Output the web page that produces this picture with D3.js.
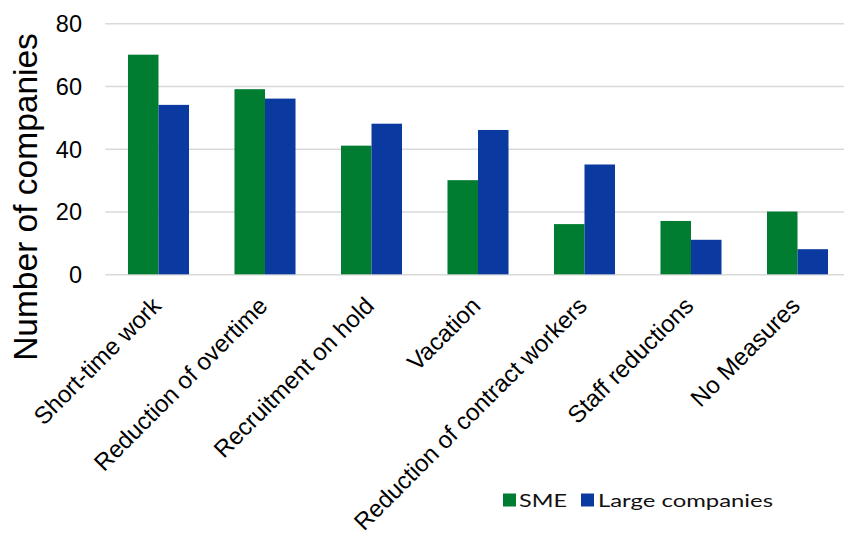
<!DOCTYPE html>
<html>
<head>
<meta charset="utf-8">
<script src="https://cdn.jsdelivr.net/npm/d3@7"></script>
<style>
  html, body { margin: 0; padding: 0; background: #fff; }
  svg { display: block; }
  .axis path, .axis line { display: none; }
  .grid line { stroke: #d9d9d9; stroke-width: 1.5; }
  .grid path { display: none; }
</style>
</head>
<body>
<svg id="chart" width="844" height="536"></svg>
<script>
// Measures taken by companies, counted per company size
const categories = [
  "Short-time work",
  "Reduction of overtime",
  "Recruitment on hold",
  "Vacation",
  "Reduction of contract workers",
  "Staff reductions",
  "No Measures"
];
const seriesNames = ["SME", "Large companies"];
const smeValues = [70, 59, 41, 30, 16, 17, 20];
const largeValues = [54, 56, 48, 46, 35, 11, 8];
const yTicks = [0, 20, 40, 60, 80];
const seriesColors = ["#007d30", "#0a3aa0"];

const svg = d3.select("#chart");
const plot = { left: 105.25, right: 850.75, top: 23.3, bottom: 274.3 };

const x = d3.scaleBand()
  .domain(categories)
  .range([plot.left, plot.right])
  .paddingInner(0.427)
  .paddingOuter(0.2135);

const xSeries = d3.scaleBand()
  .domain(seriesNames)
  .range([0, x.bandwidth()]);

const y = d3.scaleLinear()
  .domain([0, 80])
  .range([plot.bottom, plot.top]);

const color = d3.scaleOrdinal().domain(seriesNames).range(seriesColors);

// Horizontal gridlines
svg.append("g")
  .attr("class", "grid")
  .attr("transform", `translate(${plot.left},0)`)
  .call(d3.axisLeft(y).tickValues(yTicks).tickSize(-(844 - plot.left)).tickFormat(""));

// Y axis tick labels
const yAxis = svg.append("g")
  .attr("class", "axis")
  .attr("transform", "translate(82,0)")
  .call(d3.axisLeft(y).tickValues(yTicks).tickSize(0).tickPadding(0));
yAxis.selectAll("text")
  .attr("font-family", "'Liberation Sans', Arial, sans-serif")
  .attr("font-size", "23.5px")
  .attr("fill", "#000")
  .attr("dy", "0.35em");

// Bars
const rows = categories.map((c, i) => ({ category: c, values: [smeValues[i], largeValues[i]] }));
const groups = svg.append("g").selectAll("g")
  .data(rows)
  .join("g")
  .attr("transform", d => `translate(${x(d.category)},0)`);

groups.selectAll("rect")
  .data(d => d.values.map((v, j) => ({ series: seriesNames[j], value: v })))
  .join("rect")
  .attr("x", d => xSeries(d.series))
  .attr("y", d => y(d.value))
  .attr("width", xSeries.bandwidth())
  .attr("height", d => y(0) - y(d.value))
  .attr("fill", d => color(d.series));

// Category labels, rotated
const xAxis = svg.append("g")
  .attr("class", "axis")
  .attr("transform", `translate(0,${plot.bottom})`)
  .call(d3.axisBottom(x).tickSize(0).tickPadding(0));
xAxis.selectAll("text")
  .attr("font-family", "'Liberation Sans', Arial, sans-serif")
  .attr("font-size", "24px")
  .attr("fill", "#000")
  .attr("text-anchor", "end")
  .attr("y", 0)
  .attr("dy", 0)
  .attr("transform", "translate(4,33) rotate(-45)");

// Y axis title
svg.append("text")
  .attr("transform", "translate(37,197) rotate(-90)")
  .attr("text-anchor", "middle")
  .attr("font-family", "'Liberation Sans', Arial, sans-serif")
  .attr("font-size", "33.5px")
  .attr("fill", "#000")
  .text("Number of companies");

// Legend
const legendItems = [
  { name: seriesNames[0], sx: 503, tx: 519, width: 48 },
  { name: seriesNames[1], sx: 581, tx: 598, width: 175 }
];
const legend = svg.append("g");
legend.selectAll("rect")
  .data(legendItems)
  .join("rect")
  .attr("x", d => d.sx)
  .attr("y", 493.5)
  .attr("width", 13)
  .attr("height", 13)
  .attr("fill", d => color(d.name));
legend.selectAll("text")
  .data(legendItems)
  .join("text")
  .attr("x", d => d.tx)
  .attr("y", 507)
  .attr("font-family", "Lato, 'Open Sans', sans-serif")
  .attr("font-size", "18px")
  .attr("fill", "#111")
  .attr("textLength", d => d.width)
  .attr("lengthAdjust", "spacingAndGlyphs")
  .text(d => d.name);
</script>
</body>
</html>
